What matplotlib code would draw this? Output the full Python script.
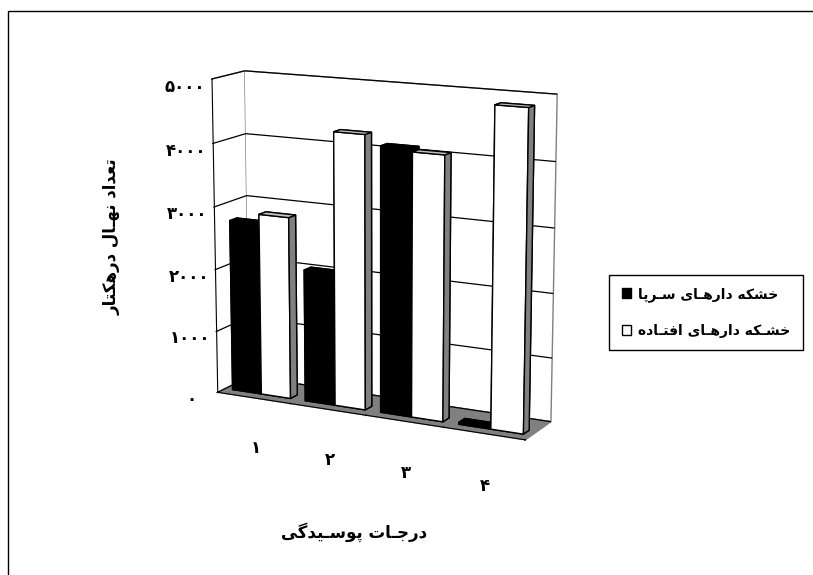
import matplotlib
matplotlib.use('Agg')
import matplotlib.pyplot as plt
from matplotlib.patches import Patch, Rectangle

categories = ['۱', '۲', '۳', '۴']
standing = [2750, 2100, 4150, 30]    # خشکه دارهای سرپا
fallen = [2900, 4300, 4100, 4900]    # خشکه دارهای افتاده
zticks = [0, 1000, 2000, 3000, 4000, 5000]
ztick_labels = ['۰', '۱۰۰۰', '۲۰۰۰', '۳۰۰۰', '۴۰۰۰', '۵۰۰۰']

ylabel_fa = 'تعداد نهـال درهکتار'
xlabel_fa = 'درجـات پوسـیدگی'
series_names = ['خشکه دارهـای سـرپا', 'خشـکه دارهـای افتـاده']

# matplotlib has no arabic shaping, so pick presentation forms by hand
# (isolated, final, initial, medial); None = letter never joins the next one
FORMS = {
    'ا': ('\uFE8D', '\uFE8E', None, None),
    'ب': ('\uFE8F', '\uFE90', '\uFE91', '\uFE92'),
    'ت': ('\uFE95', '\uFE96', '\uFE97', '\uFE98'),
    'ج': ('\uFE9D', '\uFE9E', '\uFE9F', '\uFEA0'),
    'خ': ('\uFEA5', '\uFEA6', '\uFEA7', '\uFEA8'),
    'د': ('\uFEA9', '\uFEAA', None, None),
    'ر': ('\uFEAD', '\uFEAE', None, None),
    'س': ('\uFEB1', '\uFEB2', '\uFEB3', '\uFEB4'),
    'ش': ('\uFEB5', '\uFEB6', '\uFEB7', '\uFEB8'),
    'ع': ('\uFEC9', '\uFECA', '\uFECB', '\uFECC'),
    'ف': ('\uFED1', '\uFED2', '\uFED3', '\uFED4'),
    'ل': ('\uFEDD', '\uFEDE', '\uFEDF', '\uFEE0'),
    'م': ('\uFEE1', '\uFEE2', '\uFEE3', '\uFEE4'),
    'ن': ('\uFEE5', '\uFEE6', '\uFEE7', '\uFEE8'),
    'ه': ('\uFEE9', '\uFEEA', '\uFEEB', '\uFEEC'),
    'و': ('\uFEED', '\uFEEE', None, None),
    'پ': ('\uFB56', '\uFB57', '\uFB58', '\uFB59'),
    'ک': ('\uFB8E', '\uFB8F', '\uFB90', '\uFB91'),
    'گ': ('\uFB92', '\uFB93', '\uFB94', '\uFB95'),
    'ی': ('\uFBFC', '\uFBFD', '\uFBFE', '\uFBFF'),
    'ـ': ('ـ', 'ـ', 'ـ', 'ـ'),
}


def shape(text):
    out = []
    for i, ch in enumerate(text):
        f = FORMS.get(ch)
        if f is None:
            out.append(ch)
            continue
        prev = text[i - 1] if i > 0 else ''
        nxt = text[i + 1] if i + 1 < len(text) else ''
        join_prev = prev in FORMS and FORMS[prev][2] is not None
        join_next = f[2] is not None and nxt in FORMS
        if join_prev and join_next:
            out.append(f[3])
        elif join_prev:
            out.append(f[1])
        elif join_next:
            out.append(f[2])
        else:
            out.append(f[0])
    return ''.join(reversed(out))


plt.rcParams['font.family'] = ['DejaVu Sans']
plt.rcParams['font.weight'] = 'bold'

fig = plt.figure(figsize=(8.13, 5.75), dpi=100)
ax = fig.add_axes([0.16, 0.135, 0.6, 0.84], projection='3d')
ax.set_proj_type('persp', focal_length=0.8)
ax.view_init(elev=13, azim=-63)
ax.set_box_aspect((350, 65, 331), zoom=0.97)

x = list(range(1, len(categories) + 1))
bw = 0.4
depth = 0.22
y0 = 0.24

white_faces = ['white', '#c0c0c0', 'white', 'white', '#808080', '#808080']
ax.bar3d([i - bw for i in x], [y0] * 4, [0] * 4, bw, depth, standing,
         color='black', edgecolor='black', linewidth=1, shade=False)
ax.bar3d(x, [y0] * 4, [0] * 4, bw, depth, fallen,
         color=white_faces * 4, edgecolor='black', linewidth=1, shade=False)

ax.set_xlim(0.5, 4.5)
ax.set_ylim(0, 1)
ax.set_zlim(0, 5000)

# walls white, floor gray, gridlines only across the walls
ax.xaxis.set_pane_color((1, 1, 1, 1))
ax.yaxis.set_pane_color((1, 1, 1, 1))
ax.zaxis.set_pane_color((0.5, 0.5, 0.5, 1))
for a in (ax.xaxis, ax.yaxis, ax.zaxis):
    a.pane.set_edgecolor('#808080')
ax.xaxis._axinfo['grid']['linewidth'] = 0
ax.yaxis._axinfo['grid']['linewidth'] = 0
ax.zaxis._axinfo['grid'].update(color='black', linewidth=0.9)

ax.zaxis.set_ticks_position('lower')
ax.set_zticks(zticks)
ax.set_zticklabels(ztick_labels, fontsize=12)
ax.zaxis.set_tick_params(pad=7)
ax.set_xticks([0.5, 1.5, 2.5, 3.5, 4.5])
ax.set_xticklabels([])
ax.set_yticks([])
ax.yaxis.line.set_color((0, 0, 0, 0))

for i, lab in zip(x, categories):
    ax.text(i + 0.02, 0, -820, lab, fontsize=12, ha='center', va='center')

fig.text(112 / 813, 1 - 237 / 575, shape(ylabel_fa), rotation=90,
         ha='center', va='center', fontsize=12)
fig.text(354 / 813, 1 - 532 / 575, shape(xlabel_fa),
         ha='center', va='center', fontsize=12)

handles = [Patch(facecolor='black', edgecolor='black'),
           Patch(facecolor='white', edgecolor='black')]
fig.legend(handles, [shape(s) for s in series_names], loc='center',
           bbox_to_anchor=(614 / 813, 1 - 353 / 575, 184 / 813, 81 / 575),
           fancybox=False, edgecolor='black', framealpha=1, fontsize=10,
           handlelength=0.7, handleheight=0.7, handletextpad=0.5,
           labelspacing=1.6, borderpad=0.9, borderaxespad=0)

fig.add_artist(Rectangle((8 / 813, -0.1), 1.2, 1 - 11 / 575 + 0.1,
                         transform=fig.transFigure, fill=False,
                         edgecolor='black', linewidth=1))

fig.savefig('out.png', dpi=100)
